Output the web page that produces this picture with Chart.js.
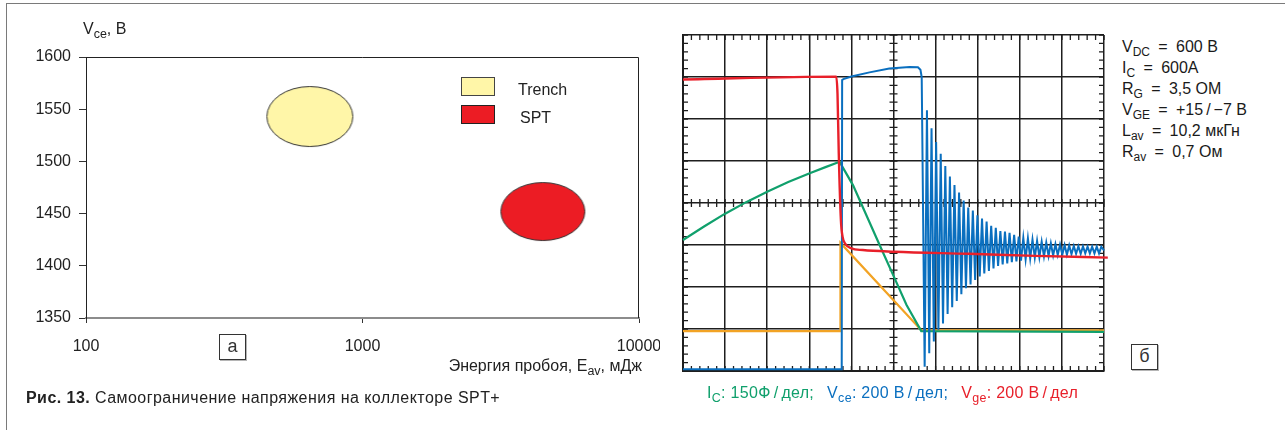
<!DOCTYPE html>
<html lang="ru">
<head>
<meta charset="utf-8">
<title>Рис. 13</title>
<script src="https://cdn.jsdelivr.net/npm/chart.js@4.4.1/dist/chart.umd.min.js"></script>
<style>
  html, body { margin: 0; padding: 0; background: #fff; }
  #fig { position: relative; width: 1285px; height: 430px; overflow: hidden;
         font-family: "Liberation Sans", Arial, sans-serif; color: #222; }
  #frame { position: absolute; left: 6px; top: 3px; right: -10px; bottom: -10px;
           border-left: 1.5px solid #7a7a7a; border-top: 1.5px solid #7a7a7a; }
  .t { position: absolute; white-space: nowrap; line-height: 1; }
  .t sub { font-size: 0.78em; vertical-align: -0.32em; line-height: 0; }
  .tag { position: absolute; width: 25px; height: 24px; border: 1px solid #333;
         box-shadow: 1px 1px 0 #b5b5b5; font-size: 18px; line-height: 23px;
         text-align: center; color: #333; }
  .lgbox { position: absolute; width: 32px; height: 17px; border: 1px solid #444; }
  #params { position: absolute; left: 1122px; top: 37px; font-size: 16px; line-height: 20.9px; color: #1a1a1a; }
  #params div { white-space: nowrap; }
  #params sub { font-size: 0.75em; vertical-align: -0.3em; line-height: 0; }
  .eq { display: inline-block; width: 26px; text-align: center; }
  .sl { margin: 0 3px; }
  canvas { position: absolute; }
</style>
</head>
<body>
<div id="fig">
  <div id="frame"></div>

  <canvas id="energyChart" width="660" height="430" style="left:0;top:0"></canvas>
  <canvas id="scopeChart" width="441" height="356" style="left:673px;top:25px"></canvas>

  <!-- panel а -->
  <div class="t" style="left:83px;top:21px;font-size:16px">V<sub>ce</sub>, В</div>
  <div class="lgbox" style="left:461px;top:77px;background:#fff6a8"></div>
  <div class="lgbox" style="left:461px;top:105px;background:#ec1c24;border-color:#222"></div>
  <div class="t" style="left:518px;top:82px;font-size:16px">Trench</div>
  <div class="t" style="left:520px;top:110px;font-size:16px">SPT</div>
  <div class="t" style="right:643px;top:358px;font-size:16px">Энергия пробоя, E<sub>av</sub>, мДж</div>
  <div class="tag" style="left:219px;top:334px">а</div>
  <div class="t" style="left:26px;top:390px;font-size:16px;letter-spacing:0.45px"><b>Рис. 13.</b> Самоограничение напряжения на коллекторе SPT+</div>

  <!-- panel б -->
  <div id="params">
    <div>V<sub>DC</sub><span class="eq">=</span>600 В</div>
    <div>I<sub>C</sub><span class="eq">=</span>600A</div>
    <div>R<sub>G</sub><span class="eq">=</span>3,5 ОМ</div>
    <div>V<sub>GE</sub><span class="eq">=</span>+15<span class="sl">/</span>−7 В</div>
    <div>L<sub>av</sub><span class="eq">=</span>10,2 мкГн</div>
    <div>R<sub>av</sub><span class="eq">=</span>0,7 Ом</div>
  </div>
  <div class="tag" style="left:1131px;top:344px">б</div>
  <div class="t" style="left:707px;top:385px;font-size:16px;letter-spacing:0.3px">
    <span style="color:#10a06c">I<sub>C</sub>: 150Ф<span class="sl">/</span>дел;</span>&ensp;
    <span style="color:#0a6fbf">V<sub>ce</sub>: 200 В<span class="sl">/</span>дел;</span>&ensp;
    <span style="color:#e8202a">V<sub>ge</sub>: 200 В<span class="sl">/</span>дел</span>
  </div>
</div>

<script>
// ---- Panel а: avalanche energy vs. clamped collector voltage ----
const devices      = ['Trench', 'SPT'];
const avEnergy     = [645, 4490];     // mJ
const clampVoltage = [1543, 1452];    // V
const energyTicks  = [100, 1000, 10000];
const voltageTicks = [1350, 1400, 1450, 1500, 1550, 1600];

// ---- Panel б: turn-off waveforms, in screen divisions ----
const vgeTime = [0, 3.64, 3.67, 3.70, 3.75, 3.79, 3.86, 4.00, 4.27, 5.02, 6.80, 8.38, 10.09];
const vgeDiv  = [6.94, 7.01, 6.60, 5.18, 3.60, 3.20, 3.02, 2.92, 2.88, 2.84, 2.79, 2.74, 2.70];

const vceTime = [0, 3.77, 3.78, 3.81, 4.00, 4.43, 4.90, 5.38, 5.58, 5.64, 5.67];
const vceDiv  = [0.04, 0.04, 6.93, 6.95, 7.01, 7.11, 7.20, 7.24, 7.23, 7.17, 7.00];
// ringing after the voltage collapses: successive minima and maxima
const vceRingStart = 5.74, vceRingHalfPeriod = 0.0545, vceRingEnd = [10, 2.87];
const vceTroughs = [0.10, 0.42, 0.70, 0.98, 1.13, 1.36, 1.52, 1.67, 1.83, 1.97, 2.06, 2.17, 2.25,
                    2.32, 2.38, 2.44, 2.50, 2.54, 2.56, 2.59, 2.61, 2.63, 2.66, 2.68, 2.70, 2.71,
                    2.73, 2.74, 2.75, 2.76, 2.77, 2.77, 2.78, 2.79, 2.79, 2.80, 2.80, 2.80, 2.80];
const vcePeaks   = [6.21, 5.78, 5.45, 5.17, 4.88, 4.63, 4.43, 4.25, 4.06, 3.89, 3.82, 3.71, 3.63,
                    3.56, 3.46, 3.41, 3.33, 3.32, 3.29, 3.24, 3.20, 3.17, 3.16, 3.13, 3.10, 3.08,
                    3.06, 3.04, 3.02, 3.01, 3.00, 2.99, 2.98, 2.97, 2.97, 2.96, 2.96, 2.96, 2.96];

const icTime = [0, 0.50, 0.99, 1.50, 2.00, 2.50, 3.01, 3.40, 3.72, 4.04, 4.67, 5.03, 5.31, 5.66, 10];
const icDiv  = [3.12, 3.44, 3.74, 4.02, 4.27, 4.50, 4.71, 4.86, 4.98, 4.42, 3.00, 2.20, 1.57, 0.95, 0.93];

const auxTime = [0, 3.73, 3.74, 5.66, 10];
const auxDiv  = [0.95, 0.95, 3.05, 0.97, 0.97];

const toXY = (t, v) => t.map((x, i) => ({ x, y: v[i] }));

function vceTrace() {
  const pts = toXY(vceTime, vceDiv);
  vceTroughs.forEach((lo, i) => {
    pts.push({ x: vceRingStart + 2 * i * vceRingHalfPeriod, y: lo });
    pts.push({ x: vceRingStart + (2 * i + 1) * vceRingHalfPeriod, y: vcePeaks[i] });
  });
  pts.push({ x: vceRingEnd[0], y: vceRingEnd[1] });
  return pts;
}

// ellipse marker used for the device regions
function ellipseMarker(rx, ry, fill, stroke) {
  const c = document.createElement('canvas');
  c.width = Math.ceil(rx * 2 + 3);
  c.height = Math.ceil(ry * 2 + 3);
  const g = c.getContext('2d');
  g.beginPath();
  g.ellipse(c.width / 2, c.height / 2, rx, ry, 0, 0, Math.PI * 2);
  g.fillStyle = fill;
  g.fill();
  g.lineWidth = 1;
  g.strokeStyle = stroke;
  g.stroke();
  return c;
}

const font16 = { family: '"Liberation Sans", Arial, sans-serif', size: 16 };

const plotFrame = {
  id: 'plotFrame',
  afterDraw(chart) {
    const { ctx, chartArea: a } = chart;
    ctx.save();
    ctx.strokeStyle = '#222';
    ctx.lineWidth = 1;
    ctx.beginPath();
    ctx.moveTo(a.left, a.top + 0.5);
    ctx.lineTo(a.right - 0.5, a.top + 0.5);
    ctx.lineTo(a.right - 0.5, a.bottom);
    ctx.stroke();
    ctx.restore();
  }
};

new Chart(document.getElementById('energyChart'), {
  type: 'scatter',
  data: {
    datasets: devices.map((name, i) => ({
      label: name,
      data: [{ x: avEnergy[i], y: clampVoltage[i] }],
      pointStyle: i === 0 ? ellipseMarker(43, 30, '#fff6a8', '#333')
                          : ellipseMarker(42, 29, '#ec1c24', '#333'),
      pointRadius: 30,
      clip: false
    }))
  },
  options: {
    responsive: false,
    devicePixelRatio: 1,
    animation: false,
    layout: { autoPadding: false, padding: { left: 0, top: 57, right: 21, bottom: 0 } },
    plugins: { legend: { display: false }, tooltip: { enabled: false } },
    scales: {
      x: {
        type: 'logarithmic',
        min: energyTicks[0],
        max: energyTicks[energyTicks.length - 1],
        afterBuildTicks: s => { s.ticks = energyTicks.map(v => ({ value: v })); },
        afterFit: s => { s.height = 112; s.paddingLeft = 0; s.paddingRight = 0; },
        ticks: { font: font16, color: '#222', padding: 14, maxRotation: 0,
                 callback: v => String(v) },
        grid: { drawOnChartArea: false, tickLength: 5, color: '#333', lineWidth: 1 },
        border: { color: '#8c8c8c', width: 2 }
      },
      y: {
        min: voltageTicks[0],
        max: voltageTicks[voltageTicks.length - 1],
        afterBuildTicks: s => { s.ticks = voltageTicks.map(v => ({ value: v })); },
        afterFit: s => { s.width = 86; s.paddingTop = 0; s.paddingBottom = 0; },
        ticks: { font: font16, color: '#222', padding: 8, callback: v => String(v) },
        grid: { drawOnChartArea: false, tickLength: 7, color: '#333', lineWidth: 1 },
        border: { color: '#222', width: 1 }
      }
    }
  },
  plugins: [plotFrame]
});

// minor graticule marks along the screen edges and the centre cross
const MINOR_PER_DIV = 5;
const graticule = {
  id: 'graticule',
  beforeDatasetsDraw(chart) {
    const { ctx, chartArea: a, scales: { x, y } } = chart;
    const cx = x.getPixelForValue((x.min + x.max) / 2);
    const cy = y.getPixelForValue((y.min + y.max) / 2);
    ctx.save();
    ctx.strokeStyle = '#1e1e1e';
    ctx.lineWidth = 1.3;
    ctx.beginPath();
    const nx = (x.max - x.min) * MINOR_PER_DIV;
    for (let i = 0; i <= nx; i++) {
      const px = x.getPixelForValue(x.min + i / MINOR_PER_DIV);
      ctx.moveTo(px, a.top); ctx.lineTo(px, a.top + 5);
      ctx.moveTo(px, a.bottom); ctx.lineTo(px, a.bottom - 5);
      ctx.moveTo(px, cy - 4); ctx.lineTo(px, cy + 4);
    }
    const ny = (y.max - y.min) * MINOR_PER_DIV;
    for (let i = 0; i <= ny; i++) {
      const py = y.getPixelForValue(y.min + i / MINOR_PER_DIV);
      ctx.moveTo(a.left, py); ctx.lineTo(a.left + 5, py);
      ctx.moveTo(a.right, py); ctx.lineTo(a.right - 5, py);
      ctx.moveTo(cx - 4, py); ctx.lineTo(cx + 4, py);
    }
    ctx.stroke();
    ctx.restore();
  }
};

const trace = (label, data, color, width, order, extra) => Object.assign({
  label, data, borderColor: color, borderWidth: width, pointRadius: 0,
  fill: false, tension: 0, order, clip: { left: 2, top: 2, right: 8, bottom: 3 }
}, extra || {});

new Chart(document.getElementById('scopeChart'), {
  type: 'line',
  data: {
    datasets: [
      trace('Vge', toXY(vgeTime, vgeDiv), '#e8202a', 2.4, 0, { cubicInterpolationMode: 'monotone' }),
      trace('Vce', vceTrace(), '#0a6fbf', 2, 1),
      trace('Ic', toXY(icTime, icDiv), '#10a06c', 2.2, 2),
      trace('aux', toXY(auxTime, auxDiv), '#f2a324', 2.2, 3)
    ]
  },
  options: {
    responsive: false,
    devicePixelRatio: 1,
    animation: false,
    layout: { padding: 10 },
    plugins: { legend: { display: false }, tooltip: { enabled: false } },
    scales: {
      x: {
        type: 'linear', min: 0, max: 10,
        ticks: { display: false, stepSize: 1 },
        grid: { color: '#1e1e1e', lineWidth: 1.5, drawTicks: false },
        border: { display: true, color: '#1e1e1e', width: 2 }
      },
      y: {
        type: 'linear', min: 0, max: 8,
        ticks: { display: false, stepSize: 1 },
        grid: { color: '#1e1e1e', lineWidth: 1.5, drawTicks: false },
        border: { display: true, color: '#1e1e1e', width: 2 }
      }
    }
  },
  plugins: [graticule]
});
</script>
</body>
</html>
